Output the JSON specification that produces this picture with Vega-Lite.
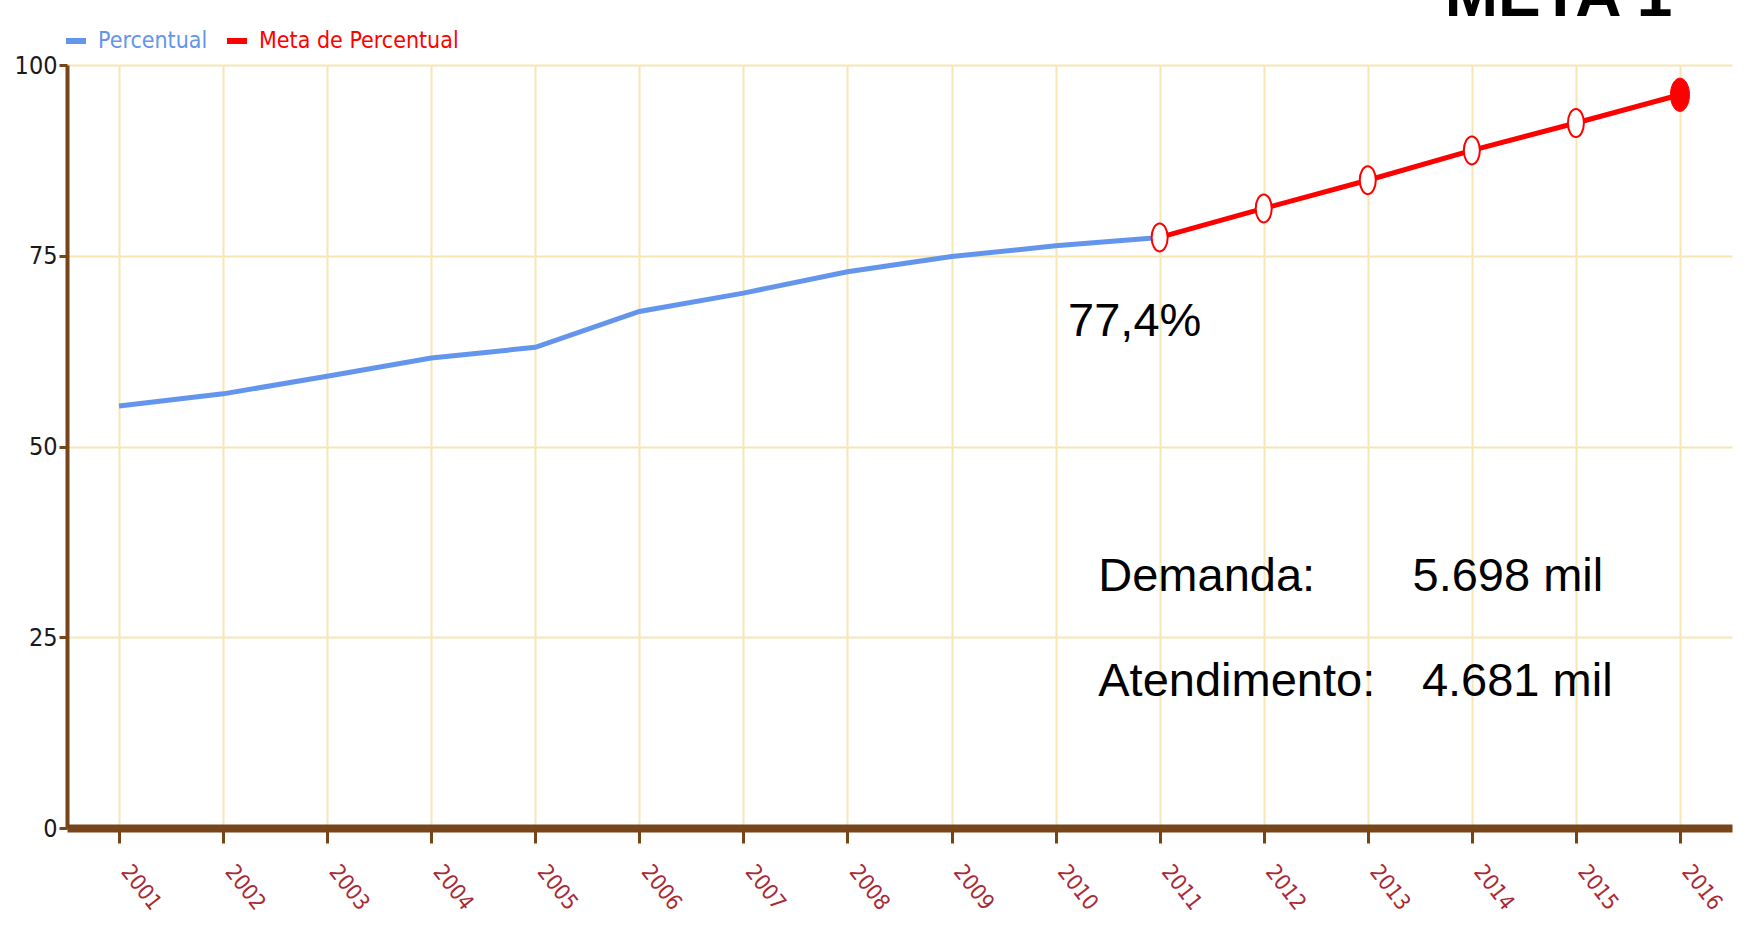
{
  "$schema": "https://vega.github.io/schema/vega-lite/v6.json",
  "autosize": {"type": "none"},
  "width": 1665,
  "height": 763,
  "padding": {"left": 67, "top": 65, "right": 22, "bottom": 109},
  "background": "white",
  "config": {
    "view": {"stroke": null},
    "axis": {"gridColor": "#f6e6b4", "gridWidth": 2, "domainColor": "#774519", "tickColor": "#774519"}
  },
  "datasets": {
    "serie": [
      {"ano": 2001, "valor": 55.3, "serie": "Percentual"},
      {"ano": 2002, "valor": 56.9, "serie": "Percentual"},
      {"ano": 2003, "valor": 59.2, "serie": "Percentual"},
      {"ano": 2004, "valor": 61.6, "serie": "Percentual"},
      {"ano": 2005, "valor": 63.0, "serie": "Percentual"},
      {"ano": 2006, "valor": 67.7, "serie": "Percentual"},
      {"ano": 2007, "valor": 70.1, "serie": "Percentual"},
      {"ano": 2008, "valor": 72.9, "serie": "Percentual"},
      {"ano": 2009, "valor": 74.9, "serie": "Percentual"},
      {"ano": 2010, "valor": 76.3, "serie": "Percentual"},
      {"ano": 2011, "valor": 77.4, "serie": "Percentual"},
      {"ano": 2011, "valor": 77.4, "serie": "Meta de Percentual"},
      {"ano": 2012, "valor": 81.2, "serie": "Meta de Percentual"},
      {"ano": 2013, "valor": 84.9, "serie": "Meta de Percentual"},
      {"ano": 2014, "valor": 88.8, "serie": "Meta de Percentual"},
      {"ano": 2015, "valor": 92.4, "serie": "Meta de Percentual"},
      {"ano": 2016, "valor": 96.1, "serie": "Meta de Percentual"}
    ]
  },
  "layer": [
    {
      "data": {"name": "serie"},
      "mark": {"type": "line", "strokeWidth": 5, "clip": false},
      "encoding": {
        "x": {"field": "ano", "type": "quantitative", "scale": {"domain": [2000.5, 2016.5], "nice": false, "zero": false},
          "axis": {"title": null, "values": [2001,2002,2003,2004,2005,2006,2007,2008,2009,2010,2011,2012,2013,2014,2015,2016], "format": "d",
            "labelAngle": 52, "labelAlign": "left", "labelBaseline": "top", "labelColor": "#a82a33", "labelFont": "DejaVu Sans Condensed", "labelFontSize": 22,
            "labelPadding": 18, "labelOffset": 14, "domainWidth": 8, "tickSize": 15, "tickWidth": 3, "labelFlush": false, "labelOverlap": false}},
        "y": {"field": "valor", "type": "quantitative", "scale": {"domain": [0, 100], "nice": false},
          "axis": {"title": null, "values": [0, 25, 50, 75, 100], "labelColor": "#1a1a1a", "labelFont": "DejaVu Sans Condensed", "labelFontSize": 25,
            "labelPadding": 2, "domainWidth": 4, "tickSize": 8, "tickWidth": 3, "labelFlush": false}},
        "color": {"field": "serie", "type": "nominal",
          "scale": {"domain": ["Percentual", "Meta de Percentual"], "range": ["#6495ED", "#FF0000"]},
          "legend": {"title": null, "orient": "none", "legendX": -4, "legendY": -37, "direction": "horizontal",
            "symbolType": "stroke", "symbolSize": 400, "symbolStrokeWidth": 6, "labelFont": "DejaVu Sans Condensed", "labelFontSize": 23,
            "labelOffset": 9, "columnPadding": 7, "symbolOffset": 0, "labelLimit": 0,
            "encode": {"labels": {"update": {"fill": {"scale": "color", "field": "value"}}}}}},
        "order": {"field": "ano", "type": "quantitative"}
      }
    },
    {
      "data": {"name": "serie"},
      "transform": [{"filter": "datum.serie == 'Meta de Percentual' && datum.ano < 2016"}],
      "mark": {"type": "point", "shape": "M0,-1.75A1,1.75,0,1,1,0,1.75A1,1.75,0,1,1,0,-1.75Z", "size": 256, "filled": true, "fill": "white", "stroke": "#FF0000", "strokeWidth": 2, "opacity": 1},
      "encoding": {
        "x": {"field": "ano", "type": "quantitative"},
        "y": {"field": "valor", "type": "quantitative"}
      }
    },
    {
      "data": {"name": "serie"},
      "transform": [{"filter": "datum.serie == 'Meta de Percentual' && datum.ano == 2016"}],
      "mark": {"type": "point", "shape": "M0,-1.75A1,1.75,0,1,1,0,1.75A1,1.75,0,1,1,0,-1.75Z", "size": 361, "filled": true, "fill": "#FF0000", "stroke": "#FF0000", "strokeWidth": 1, "opacity": 1, "clip": false},
      "encoding": {
        "x": {"field": "ano", "type": "quantitative"},
        "y": {"field": "valor", "type": "quantitative"}
      }
    },
    {
      "data": {"values": [
        {"ano": 2010.12, "valor": 64.5, "texto": "77,4%"},
        {"ano": 2010.41, "valor": 31.1, "texto": "Demanda:"},
        {"ano": 2013.43, "valor": 31.1, "texto": "5.698 mil"},
        {"ano": 2010.41, "valor": 17.3, "texto": "Atendimento:"},
        {"ano": 2013.52, "valor": 17.3, "texto": "4.681 mil"}
      ]},
      "mark": {"type": "text", "align": "left", "baseline": "alphabetic", "font": "Liberation Sans", "fontSize": 47, "color": "#000000"},
      "encoding": {
        "x": {"field": "ano", "type": "quantitative"},
        "y": {"field": "valor", "type": "quantitative"},
        "text": {"field": "texto"}
      }
    },
    {
      "data": {"values": [{"ano": 2013.74, "valor": 106.4, "texto": "META 1"}]},
      "mark": {"type": "text", "align": "left", "baseline": "alphabetic", "font": "Liberation Sans", "fontSize": 64, "fontWeight": "bold", "color": "#000000", "clip": false},
      "encoding": {
        "x": {"field": "ano", "type": "quantitative"},
        "y": {"field": "valor", "type": "quantitative"},
        "text": {"field": "texto"}
      }
    }
  ]
}
